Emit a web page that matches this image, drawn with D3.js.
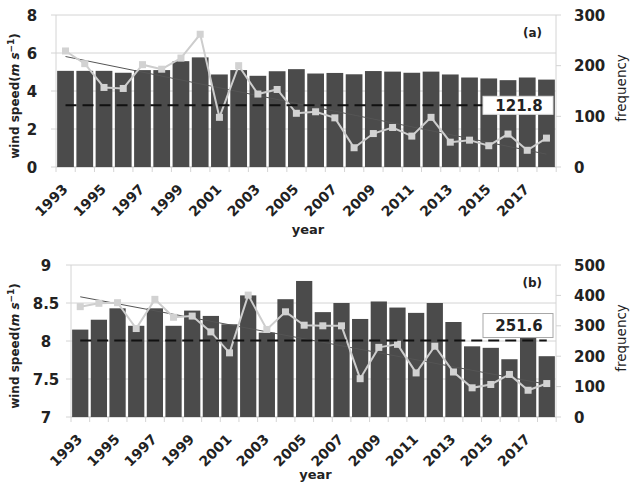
<!DOCTYPE html>
<html lang="en">
<head>
<meta charset="utf-8">
<title>wind speed and frequency</title>
<script src="https://d3js.org/d3.v7.min.js"></script>
<style>
  body { margin: 0; background: #fff; }
  svg { display: block; font-family: "DejaVu Sans", sans-serif; }
  .tick-lab { font-size: 15px; font-weight: bold; fill: #222; }
  .year-lab { font-size: 14px; font-weight: bold; fill: #222; }
</style>
</head>
<body>
<script>

// ---- data ----
var years = [1993,1994,1995,1996,1997,1998,1999,2000,2001,2002,2003,2004,2005,
             2006,2007,2008,2009,2010,2011,2012,2013,2014,2015,2016,2017,2018];
var yearLabels = [1993,1995,1997,1999,2001,2003,2005,2007,2009,2011,2013,2015,2017];

// panel (a)
var windA = [5.06,5.06,5.06,4.96,5.10,5.10,5.57,5.77,4.87,5.10,4.80,5.04,5.15,
             4.92,4.95,4.88,5.05,5.02,4.96,5.02,4.87,4.71,4.66,4.57,4.71,4.60];
var freqA = [229,204,157,155,202,193,215,262,98,200,144,153,106,
             109,97,38,66,78,61,98,49,53,42,65,33,57];
var windTicksA = [0,2,4,6,8];
var freqTicksA = [0,100,200,300];
var meanA = 121.8;

// panel (b)
var windB = [8.15,8.28,8.43,8.20,8.43,8.20,8.40,8.33,8.22,8.60,8.11,8.55,8.79,
             8.38,8.50,8.29,8.52,8.44,8.37,8.50,8.25,7.93,7.91,7.76,8.20,7.80];
var freqB = [363,374,376,291,387,328,332,280,211,401,288,346,302,
             300,300,126,229,239,145,233,148,96,107,140,88,110];
var windTicksB = [7,7.5,8,8.5,9];
var freqTicksB = [0,100,200,300,400,500];
var meanB = 251.6;

var width = 632, height = 484;

var svg = d3.select("body").append("svg")
  .attr("width", width)
  .attr("height", height);

// least squares trend of the frequency series
function trend(vals) {
  var n = vals.length, xm = (n - 1) / 2, ym = d3.mean(vals);
  var sxy = 0, sxx = 0;
  vals.forEach(function(v, i) { sxy += (i - xm) * (v - ym); sxx += (i - xm) * (i - xm); });
  var b = sxy / sxx;
  return [ym - b * xm, ym + b * xm];
}

function drawPanel(p) {
  var g = svg.append("g");

  var x = d3.scaleBand().domain(years).range([p.left, p.right])
            .paddingInner(0.13).paddingOuter(0.06);
  var yL = d3.scaleLinear().domain(p.windDomain).range([p.bottom, p.top]);
  var yR = d3.scaleLinear().domain(p.freqDomain).range([p.bottom, p.top]);
  var cx = function(d) { return x(d) + x.bandwidth() / 2; };
  var step = x.step();

  // gridlines
  g.selectAll(".grid").data(p.windTicks).enter().append("line")
    .attr("x1", p.left - 5).attr("x2", p.right)
    .attr("y1", function(d) { return yL(d); })
    .attr("y2", function(d) { return yL(d); })
    .attr("stroke", "#d4d4d4").attr("stroke-width", 1);

  // right axis ticks
  g.selectAll(".rtick").data(p.freqTicks).enter().append("line")
    .attr("x1", p.right).attr("x2", p.right + 5)
    .attr("y1", function(d) { return yR(d); })
    .attr("y2", function(d) { return yR(d); })
    .attr("stroke", "#d4d4d4");

  // axis lines
  g.append("line").attr("x1", p.left).attr("x2", p.left)
    .attr("y1", p.top).attr("y2", p.bottom).attr("stroke", "#d4d4d4");
  g.append("line").attr("x1", p.right).attr("x2", p.right)
    .attr("y1", p.top).attr("y2", p.bottom).attr("stroke", "#d4d4d4");
  g.append("line").attr("x1", p.left).attr("x2", p.right)
    .attr("y1", p.bottom).attr("y2", p.bottom).attr("stroke", "#d4d4d4");

  // x ticks at category boundaries
  g.selectAll(".xtick").data(d3.range(years.length + 1)).enter().append("line")
    .attr("x1", function(i) { return p.left + i * step; })
    .attr("x2", function(i) { return p.left + i * step; })
    .attr("y1", p.bottom).attr("y2", p.bottom + 5)
    .attr("stroke", "#d4d4d4");

  // bars
  g.selectAll(".bar").data(p.wind).enter().append("rect")
    .attr("x", function(d, i) { return x(years[i]); })
    .attr("width", x.bandwidth())
    .attr("y", function(d) { return yL(d); })
    .attr("height", function(d) { return p.bottom - yL(d); })
    .attr("fill", "#4b4b4b");

  // trend line
  var t = trend(p.freq);
  g.append("line")
    .attr("x1", cx(years[0])).attr("y1", yR(t[0]))
    .attr("x2", cx(years[years.length - 1])).attr("y2", yR(t[1]))
    .attr("stroke", "#555").attr("stroke-width", 1);

  // frequency line
  var line = d3.line()
    .x(function(d, i) { return cx(years[i]); })
    .y(function(d) { return yR(d); });
  g.append("path").datum(p.freq)
    .attr("d", line).attr("fill", "none")
    .attr("stroke", "#cdcdcd").attr("stroke-width", 2);
  g.selectAll(".mk").data(p.freq).enter().append("rect")
    .attr("x", function(d, i) { return cx(years[i]) - 3.5; })
    .attr("y", function(d) { return yR(d) - 3.5; })
    .attr("width", 7).attr("height", 7)
    .attr("fill", "#d2d2d2");

  // mean line
  g.append("line")
    .attr("x1", cx(years[0])).attr("x2", cx(years[years.length - 1]))
    .attr("y1", yR(p.mean)).attr("y2", yR(p.mean))
    .attr("stroke", "#111").attr("stroke-width", 2)
    .attr("stroke-dasharray", "11,6");

  // mean label box
  g.append("rect")
    .attr("x", p.right - 73).attr("y", yR(p.mean) + p.boxDy)
    .attr("width", 70).attr("height", p.boxH)
    .attr("fill", "#fff").attr("stroke", p.boxStroke);
  g.append("text").attr("class", "tick-lab")
    .attr("x", p.right - 37).attr("y", yR(p.mean) + p.boxDy + p.boxH / 2 + 5.5)
    .attr("text-anchor", "middle").text(p.mean);

  // left tick labels
  g.selectAll(".ll").data(p.windTicks).enter().append("text")
    .attr("class", "tick-lab")
    .attr("x", p.leftLabX)
    .attr("y", function(d) { return yL(d) + 5.5; })
    .attr("text-anchor", "middle")
    .text(function(d) { return d; });

  // right tick labels
  g.selectAll(".rl").data(p.freqTicks).enter().append("text")
    .attr("class", "tick-lab")
    .attr("x", p.right + 18)
    .attr("y", function(d) { return yR(d) + 5.5; })
    .text(function(d) { return d; });

  // year labels
  g.selectAll(".yl").data(yearLabels).enter().append("text")
    .attr("class", "year-lab")
    .attr("text-anchor", "end")
    .attr("transform", function(d) {
      return "translate(" + (cx(d) + 3) + "," + (p.bottom + 23) + ") rotate(-45)";
    })
    .text(function(d) { return d; });

  // axis titles
  g.append("text")
    .attr("x", (p.left + p.right) / 2 + 2).attr("y", p.bottom + p.yearDy)
    .attr("text-anchor", "middle")
    .style("font-size", "13px").style("font-weight", "bold").attr("fill", "#222")
    .text("year");

  var yt = g.append("text")
    .attr("transform", "translate(19," + ((p.top + p.bottom) / 2 + 5) + ") rotate(-90)")
    .attr("text-anchor", "middle")
    .style("font-size", "12px").style("font-weight", "bold").attr("fill", "#222");
  yt.append("tspan").text("wind speed(");
  yt.append("tspan").style("font-style", "italic").text("m s");
  yt.append("tspan").attr("dy", -5).style("font-size", "9px").text("\u22121");
  yt.append("tspan").attr("dy", 5).text(")");

  g.append("text")
    .attr("transform", "translate(626," + ((p.top + p.bottom) / 2 - 3) + ") rotate(-90)")
    .attr("text-anchor", "middle")
    .style("font-size", "13.5px").attr("fill", "#222")
    .text("frequency");

  g.append("text")
    .attr("x", p.right - 14).attr("y", p.top + 22)
    .attr("text-anchor", "end")
    .style("font-size", "12px").style("font-weight", "bold").attr("fill", "#222")
    .text(p.tag);
}

drawPanel({
  left: 56, right: 556, top: 15, bottom: 167,
  wind: windA, freq: freqA, windDomain: [0, 8], freqDomain: [0, 300],
  windTicks: windTicksA, freqTicks: freqTicksA, mean: meanA,
  leftLabX: 32, boxDy: -9, boxH: 18, boxStroke: "#e0e0e0", tag: "(a)", yearDy: 67
});

drawPanel({
  left: 71, right: 556, top: 265, bottom: 417,
  wind: windB, freq: freqB, windDomain: [7, 9], freqDomain: [0, 500],
  windTicks: windTicksB, freqTicks: freqTicksB, mean: meanB,
  leftLabX: 46, boxDy: -27, boxH: 24, boxStroke: "#a8a8a8", tag: "(b)", yearDy: 62
});

</script>
</body>
</html>
